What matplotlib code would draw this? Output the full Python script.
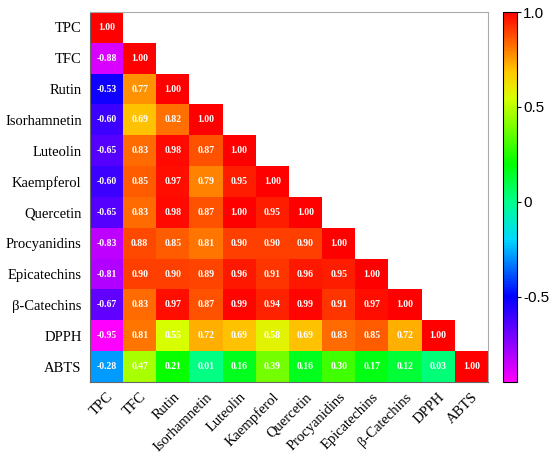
import numpy as np
import matplotlib
matplotlib.use('Agg')
import matplotlib.pyplot as plt
from matplotlib.colors import LinearSegmentedColormap, Normalize

labels = ['TPC', 'TFC', 'Rutin', 'Isorhamnetin', 'Luteolin', 'Kaempferol', 'Quercetin',
          'Procyanidins', 'Epicatechins', 'β-Catechins', 'DPPH', 'ABTS']

# lower triangle rows
rows = [
    [1.00],
    [-0.88, 1.00],
    [-0.53, 0.77, 1.00],
    [-0.60, 0.69, 0.82, 1.00],
    [-0.65, 0.83, 0.98, 0.87, 1.00],
    [-0.60, 0.85, 0.97, 0.79, 0.95, 1.00],
    [-0.65, 0.83, 0.98, 0.87, 1.00, 0.95, 1.00],
    [-0.83, 0.88, 0.85, 0.81, 0.90, 0.90, 0.90, 1.00],
    [-0.81, 0.90, 0.90, 0.89, 0.96, 0.91, 0.96, 0.95, 1.00],
    [-0.67, 0.83, 0.97, 0.87, 0.99, 0.94, 0.99, 0.91, 0.97, 1.00],
    [-0.95, 0.81, 0.55, 0.72, 0.69, 0.58, 0.69, 0.83, 0.85, 0.72, 1.00],
    [-0.28, 0.47, 0.21, 0.01, 0.16, 0.39, 0.16, 0.30, 0.17, 0.12, 0.03, 1.00],
]

vmin, vmax = -0.95, 1.0
n = len(labels)
mat = np.full((n, n), np.nan)
for i, r in enumerate(rows):
    mat[i, :len(r)] = r

# magenta -> blue -> cyan -> green -> yellow -> red
anchors = [(-0.95, (1, 0, 1)), (-0.5, (0, 0, 1)), (-0.2, (0, 0.85, 1)),
           (0.0, (0, 1, 0.55)), (0.2, (0, 1, 0)), (0.55, (0.85, 1, 0)),
           (0.68, (1, 0.8, 0)), (0.8, (1, 0.5, 0)), (1.0, (1, 0, 0))]
cmap = LinearSegmentedColormap.from_list(
    'corr', [((v - vmin) / (vmax - vmin), c) for v, c in anchors])
cmap.set_bad('white')

fig = plt.figure(figsize=(5.5, 4.59), dpi=100)
ax = fig.add_axes([0.1636, 0.1678, 0.7236, 0.806])
cax = fig.add_axes([0.9145, 0.1678, 0.0255, 0.806])

im = ax.imshow(np.ma.masked_invalid(mat), cmap=cmap, norm=Normalize(vmin, vmax),
               aspect='auto', interpolation='nearest')

for i in range(n):
    for j in range(i + 1):
        ax.text(j, i, f'{mat[i, j]:.2f}', ha='center', va='center', color='white',
                fontsize=7, family='Liberation Serif', fontweight='bold')

ax.set_xticks(range(n))
ax.set_yticks(range(n))
ax.set_xticklabels(labels, rotation=45, ha='right', rotation_mode='anchor',
                   family='Liberation Serif', fontsize=10.5)
ax.set_yticklabels(labels, family='Liberation Serif', fontsize=10.5)
ax.tick_params(length=0, pad=6)
for s in ['top', 'right']:
    ax.spines[s].set_color('#aaaaaa')
for s in ['left', 'bottom']:
    ax.spines[s].set_color('#666666')

cb = fig.colorbar(im, cax=cax, ticks=[1.0, 0.5, 0, -0.5])
cb.ax.set_yticklabels(['1.0', '0.5', '0', '-0.5'], family='Liberation Sans', fontsize=11)
cb.ax.tick_params(length=3, width=0.8, pad=1.5)
cb.outline.set_linewidth(0.8)

fig.savefig('out.png', dpi=100)
